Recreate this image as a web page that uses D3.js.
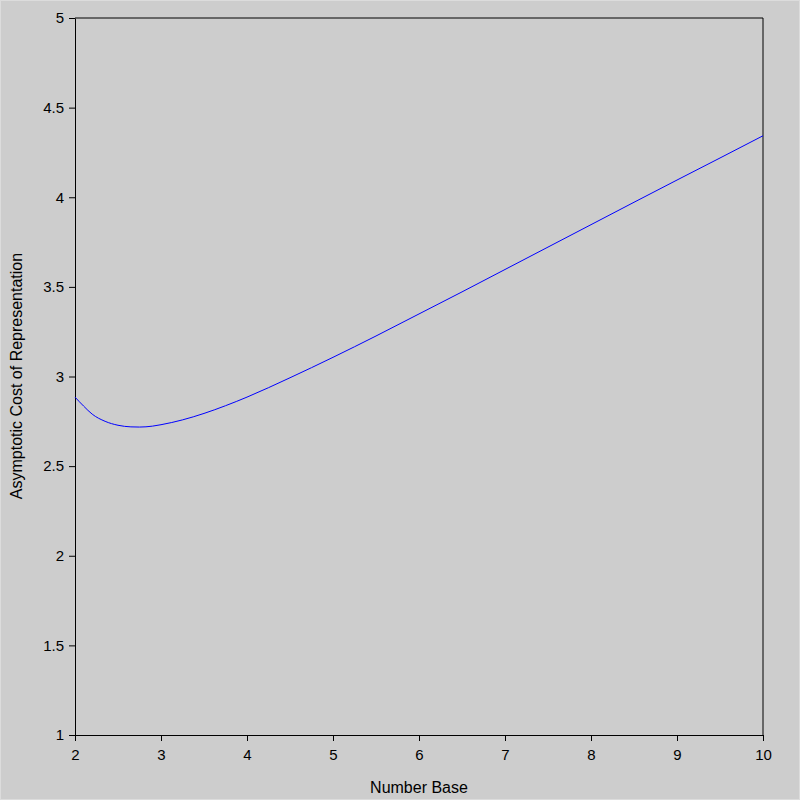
<!DOCTYPE html>
<html><head><meta charset="utf-8">
<script src="https://cdn.jsdelivr.net/npm/d3@7"></script>
<style>html,body{margin:0;padding:0;background:#ccc;}svg{display:block;}</style>
</head><body>
<script>
const xTicks = [2,3,4,5,6,7,8,9,10];
const yTicks = [1,1.5,2,2.5,3,3.5,4,4.5,5];
const baseValues = [2,2.1,2.2,2.35,2.5,2.65,2.75,2.9,3,3.25,3.5,3.75,4,4.5,5,5.5,6,6.5,7,7.5,8,8.5,9,9.5,10];
const costValues = [2.885,2.835,2.790,2.750,2.728,2.719,2.718,2.723,2.731,2.758,2.794,2.837,2.885,2.993,3.107,3.226,3.349,3.472,3.597,3.722,3.847,3.972,4.096,4.219,4.343];

const W=800,H=800, m={l:75,r:37,t:18,b:65};
const svg=d3.select("body").append("svg").attr("width",W).attr("height",H);
svg.append("rect").attr("x",0.5).attr("y",0.5).attr("width",W-1).attr("height",H-1).attr("fill","#cdcdcd").attr("stroke","#dcdcdc");
const x=d3.scaleLinear().domain([2,10]).range([m.l,W-m.r]);
const y=d3.scaleLinear().domain([1,5]).range([H-m.b,m.t]);
const font="Liberation Sans, Arial, sans-serif";
const gx=svg.append("g").attr("transform",`translate(0,${H-m.b})`).call(d3.axisBottom(x).tickValues(xTicks).tickSize(6).tickSizeOuter(0).tickFormat(d3.format("d")));
const gy=svg.append("g").attr("transform",`translate(${m.l},0)`).call(d3.axisLeft(y).tickValues(yTicks).tickSize(6).tickSizeOuter(0).tickFormat(d=>String(d)));
[gx,gy].forEach(g=>{g.selectAll("text").attr("font-family",font).attr("font-size",15).attr("fill","#000");g.selectAll("line,path").attr("stroke","#000");});
gx.selectAll("text").attr("dy","1.1em").attr("y",8);
gy.selectAll("text").attr("x",-11);
svg.append("line").attr("x1",m.l).attr("x2",W-m.r).attr("y1",m.t).attr("y2",m.t).attr("stroke","#000");
svg.append("line").attr("x1",W-m.r).attr("x2",W-m.r).attr("y1",m.t).attr("y2",H-m.b).attr("stroke","#000");
const data=baseValues.map((b,i)=>[b,costValues[i]]);
svg.append("path").datum(data).attr("fill","none").attr("stroke","#0000ff").attr("stroke-width",1)
 .attr("d",d3.line().x(d=>x(d[0])).y(d=>y(d[1])).curve(d3.curveMonotoneX));
svg.append("text").attr("x",419).attr("y",793).attr("text-anchor","middle").attr("font-family",font).attr("font-size",16).text("Number Base");
svg.append("text").attr("transform",`translate(22,376) rotate(-90)`).attr("text-anchor","middle").attr("font-family",font).attr("font-size",16).text("Asymptotic Cost of Representation");
</script>
</body></html>
